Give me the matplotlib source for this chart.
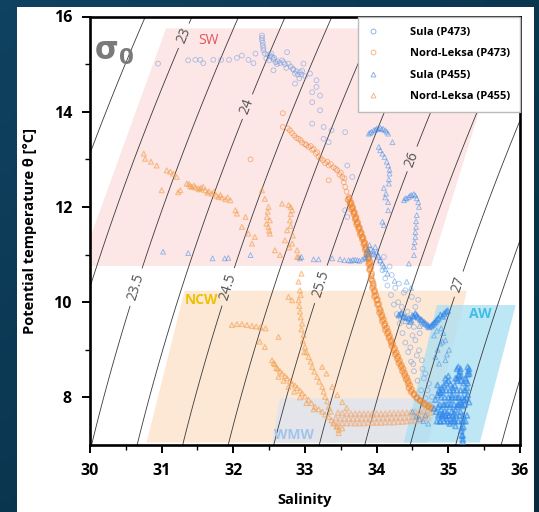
import numpy as np
import matplotlib
matplotlib.use("Agg")
import matplotlib.pyplot as plt
from matplotlib.patches import Polygon, Rectangle
from matplotlib.lines import Line2D

plt.rcParams['font.family'] = ['Open Sans', 'DejaVu Sans']

# ---------------- data (salinity, potential temperature) ----------------
# Sula (P473) - blue circles
sula473_s = [30.95, 31.37, 31.47, 31.54, 31.58, 31.72, 31.83, 31.94, 32.05, 32.12, 32.21, 32.28, 32.31,
             32.40, 32.40, 32.40, 32.41, 32.41, 32.42, 32.42, 32.44, 32.48, 32.51, 32.54, 32.56, 32.59,
             32.56, 32.62, 32.65, 32.68, 32.72, 32.75, 32.77, 32.80, 32.83, 32.86, 32.88, 32.90, 32.93,
             32.95, 32.98, 33.00, 32.86, 33.07, 33.16, 33.16, 33.10, 33.21, 33.10, 33.21, 33.10, 33.26,
             33.26, 33.33, 33.37, 33.56, 33.59, 33.66, 33.56, 33.59,
             32.46, 32.50, 32.53, 32.57, 32.61, 32.70, 32.74, 32.84, 32.92, 32.96,
             34.05, 34.08, 34.12, 34.15, 34.20, 34.24, 34.28, 34.32, 34.36, 34.40, 34.44, 34.48, 34.52,
             34.57, 34.62, 34.68, 34.74,
             34.21, 34.31, 34.40, 34.49, 34.54, 34.52, 34.54, 34.59, 34.63, 34.68, 34.73, 34.77,
             34.30, 34.35, 34.45, 34.50, 34.60, 34.38, 34.58, 34.10, 34.18, 34.26, 34.47, 34.66,
             34.34, 34.43, 34.56, 34.64, 34.71, 34.51]
sula473_t = [15.01, 15.08, 15.09, 15.09, 15.02, 15.09, 15.09, 15.09, 15.13, 15.18, 15.09, 15.02, 15.22,
             15.60, 15.55, 15.50, 15.45, 15.39, 15.34, 15.29, 15.22, 15.20, 15.18, 15.15, 15.10, 15.04,
             14.87, 15.06, 15.02, 15.08, 15.00, 15.25, 15.01, 14.95, 14.90, 14.80, 14.85, 14.78, 14.83,
             14.78, 15.01, 14.75, 14.59, 14.80, 14.66, 14.52, 14.41, 14.34, 14.20, 14.03, 13.75, 13.68,
             13.43, 13.36, 13.61, 13.57, 12.87, 12.63, 11.93, 11.79,
             15.12, 15.08, 15.22, 15.13, 15.00, 15.04, 14.92, 14.88, 14.70, 14.86,
             10.85, 10.67, 10.50, 10.35, 10.15, 9.95, 9.75, 9.55, 9.35, 9.15, 8.95, 8.75, 8.55,
             8.35, 8.15, 7.98, 7.85,
             10.57, 10.39, 10.25, 10.11, 9.90, 9.48, 9.20, 8.99, 8.78, 8.50, 8.29, 8.01,
             10.00, 9.90, 9.50, 9.30, 9.35, 10.20, 10.05, 10.95, 10.75, 10.30, 9.05, 8.40,
             9.65, 9.80, 8.88, 8.60, 8.15, 8.70]

# Nord-Leksa (P473) - orange circles
nl473_s = [32.69, 32.24, 33.33, 32.69, 32.76, 32.79, 32.85, 32.91, 32.96, 33.00, 33.05, 33.10, 33.12,
           33.15, 33.19, 33.25, 33.31, 33.33, 33.40, 33.45, 33.50, 33.52, 33.54, 33.56, 33.58, 33.61,
           32.82, 32.88, 32.94, 33.02, 33.08, 33.17, 33.22, 33.28, 33.36, 33.43, 33.48, 33.55]
nl473_t = [13.97, 13.00, 12.56, 13.68, 13.65, 13.61, 13.50, 13.43, 13.35, 13.32, 13.26, 13.20, 13.22,
           13.12, 13.05, 12.98, 12.95, 12.87, 12.83, 12.77, 12.72, 12.63, 12.52, 12.42, 12.32, 12.21,
           13.55, 13.45, 13.40, 13.30, 13.28, 13.15, 13.02, 12.92, 12.90, 12.80, 12.68, 12.60]
# the steep, densely sampled part of the Nord-Leksa (P473) profile
nl473_curve_s = [33.60, 33.63, 33.65, 33.68, 33.70, 33.72, 33.75, 33.77, 33.80, 33.82, 33.84, 33.86, 33.88,
                 33.89, 33.90, 33.92, 33.94, 33.97, 34.01, 34.04, 34.08, 34.12, 34.17, 34.21, 34.26, 34.31,
                 34.36, 34.41, 34.45, 34.52, 34.60, 34.68, 34.76,
                 33.63, 33.66, 33.68, 33.71, 33.73, 33.75, 33.78, 33.80, 33.83, 33.85, 33.87, 33.89, 33.91,
                 33.92, 33.93, 33.95, 33.97, 34.00, 34.04, 34.07, 34.11, 34.15, 34.20, 34.24, 34.29, 34.34,
                 34.39, 34.44, 34.48, 34.56, 34.64, 34.72,
                 33.62, 33.645, 33.665, 33.69, 33.71, 33.735, 33.76, 33.785, 33.81, 33.83, 33.85, 33.87,
                 33.89, 33.90, 33.91, 33.925, 33.94, 33.955, 33.97, 33.99, 34.01, 34.03, 34.055, 34.075,
                 34.095, 34.115, 34.14, 34.16, 34.18, 34.20, 34.225, 34.25, 34.275, 34.295, 34.32, 34.345,
                 34.37, 34.39, 34.42, 34.44, 34.465, 34.49, 34.52, 34.56, 34.61, 34.66, 34.72]
nl473_curve_t = [12.15, 12.05, 11.95, 11.85, 11.74, 11.63, 11.53, 11.42, 11.32, 11.21, 11.10, 11.00, 10.90,
                 10.80, 10.68, 10.48, 10.30, 10.12, 9.95, 9.78, 9.60, 9.42, 9.25, 9.08, 8.90, 8.72,
                 8.55, 8.38, 8.20, 8.05, 7.94, 7.85, 7.78,
                 12.10, 12.00, 11.90, 11.79, 11.68, 11.58, 11.47, 11.37, 11.26, 11.16, 11.05, 10.95, 10.85,
                 10.74, 10.60, 10.39, 10.21, 10.04, 9.86, 9.69, 9.51, 9.34, 9.16, 8.99, 8.81, 8.64,
                 8.46, 8.29, 8.12, 7.98, 7.90, 7.80,
                 12.18, 12.08, 11.98, 11.88, 11.76, 11.66, 11.56, 11.45, 11.35, 11.24, 11.13, 11.03,
                 10.93, 10.82, 10.70, 10.55, 10.45, 10.34, 10.25, 10.15, 10.06, 9.96, 9.82, 9.73,
                 9.64, 9.55, 9.46, 9.38, 9.29, 9.20, 9.12, 9.03, 8.94, 8.86, 8.77, 8.68,
                 8.60, 8.51, 8.42, 8.34, 8.25, 8.16, 8.08, 8.00, 7.93, 7.86, 7.82]

# Sula (P455) - blue triangles
sula455_s = [31.02, 31.37, 31.71, 31.88, 31.93, 32.24, 32.93, 32.95, 33.12, 33.19, 33.38, 33.49, 33.55,
             33.61, 33.67, 33.73, 33.80, 33.85, 33.89, 33.92, 33.96, 33.98, 34.03, 34.05, 34.08, 34.10,
             34.12, 33.87, 33.90, 33.94, 34.00, 33.64, 33.70, 33.76, 33.83, 33.88, 33.95, 34.02,
             33.89, 33.93, 33.96, 34.00, 34.05, 34.09, 34.12, 34.16, 34.22, 34.03, 34.05, 34.08, 34.11,
             34.14, 34.16, 34.18, 34.18, 34.17, 34.17, 34.13, 34.16, 34.16, 34.08, 34.10,
             33.91, 33.98, 34.02, 34.07, 34.14, 34.10, 34.12,
             34.38, 34.42, 34.45, 34.49, 34.52, 34.56, 34.59, 34.56, 34.55, 34.55, 34.54, 34.54, 34.53,
             34.52, 34.52, 34.45, 34.40, 34.47, 34.54, 34.58,
             34.15, 34.25, 34.42, 34.48, 34.40, 34.47, 34.35, 34.60,
             34.89, 34.92, 34.96, 35.01, 34.98, 34.96, 34.87, 34.82, 34.85, 34.80, 34.84, 34.90, 34.93,
             34.50, 34.55, 34.60, 34.65, 34.68, 34.72]
sula455_t = [11.06, 11.03, 10.92, 10.92, 10.93, 10.99, 10.92, 10.95, 10.90, 10.90, 10.92, 10.90, 10.88,
             10.88, 10.89, 10.88, 10.90, 10.95, 11.06, 11.12, 11.02, 11.16, 10.95, 10.88, 10.81, 10.75,
             10.70, 11.10, 11.20, 11.00, 11.05, 10.87, 10.89, 10.87, 10.93, 11.00, 11.08, 10.98,
             13.54, 13.58, 13.61, 13.64, 13.66, 13.64, 13.61, 13.54, 13.36, 13.26, 13.19, 13.12, 13.05,
             12.95, 12.87, 12.78, 12.70, 12.58, 12.49, 12.28, 12.10, 11.93, 11.69, 11.62,
             13.56, 13.62, 13.65, 13.63, 13.58, 12.40, 12.20,
             12.14, 12.18, 12.21, 12.25, 12.27, 12.18, 12.00, 11.83, 11.70, 11.58, 11.47, 11.37, 11.26,
             11.16, 10.99, 10.81, 12.18, 12.24, 12.24, 12.10,
             10.60, 10.45, 10.43, 10.30, 9.60, 9.58, 9.78, 9.50,
             9.13, 9.17, 9.20, 9.00, 8.90, 8.78, 8.71, 8.85, 9.00, 9.30, 9.40, 9.45, 9.35,
             7.70, 7.60, 7.55, 7.50, 7.62, 7.45]
# Sula (P455), densely sampled deep part (Atlantic water blob and the 9.5-9.8 degC chain)
sula455_deep_s = [34.31, 34.38, 34.45, 34.50, 34.54, 34.58, 34.63, 34.68, 34.73, 34.78, 34.82, 34.86, 34.89,
                  34.94, 34.97, 34.34, 34.41, 34.48, 34.52, 34.56, 34.61, 34.66, 34.71, 34.76, 34.80, 34.84,
                  34.92, 34.99,
                  34.80, 34.83, 34.86, 34.88, 34.90, 34.92, 34.95, 34.98, 35.00, 35.02, 35.05, 35.08, 35.10,
                  35.12, 35.15, 35.17, 35.20, 35.22, 35.25, 35.27, 35.29,
                  34.82, 34.85, 34.88, 34.91, 34.94, 34.97, 35.00, 35.03, 35.06, 35.09, 35.12, 35.15, 35.18,
                  35.21, 35.24, 35.27,
                  34.85, 34.87, 34.96, 35.00, 35.05, 35.10, 35.14, 35.16, 35.18, 35.27, 35.28, 35.29, 35.26,
                  35.20, 35.20, 35.19, 35.21, 35.10, 35.07, 35.02, 34.98, 34.92, 34.88, 34.90, 35.12, 35.24,
                  34.95, 35.03, 35.13, 35.22, 35.17, 35.08,
                  34.84, 34.89, 34.94, 34.99, 35.04, 35.09, 35.14, 35.19, 35.24,
                  34.86, 34.91, 34.96, 35.01, 35.06, 35.11, 35.16, 35.21, 35.26,
                  34.88, 34.93, 34.98, 35.03, 35.08, 35.13, 35.18, 35.23,
                  34.90, 34.95, 35.00, 35.05, 35.10, 35.15, 35.20,
                  34.92, 34.97, 35.02, 35.07, 35.12, 35.17, 35.22,
                  35.13, 35.15, 35.17, 35.25, 35.27, 35.29, 35.18, 35.19, 35.20, 35.21]
sula455_deep_t = [9.73, 9.70, 9.66, 9.72, 9.76, 9.68, 9.62, 9.55, 9.48, 9.53, 9.59, 9.66, 9.73,
                  9.76, 9.80, 9.76, 9.68, 9.62, 9.70, 9.72, 9.64, 9.58, 9.52, 9.50, 9.56, 9.63,
                  9.70, 9.82,
                  7.77, 7.70, 7.80, 7.65, 7.75, 7.60, 7.72, 7.68, 7.62, 7.80, 7.70, 7.66, 7.75,
                  7.80, 7.85, 7.90, 7.82, 7.95, 8.00, 8.05, 7.90,
                  7.95, 8.05, 8.10, 8.20, 8.26, 8.30, 8.35, 8.28, 8.20, 8.25, 8.40, 8.45, 8.35,
                  8.30, 8.40, 8.30,
                  8.26, 8.15, 8.40, 8.45, 8.05, 8.40, 8.64, 8.55, 8.45, 8.64, 8.55, 8.50, 8.20,
                  7.07, 7.20, 7.35, 7.50, 7.40, 7.50, 7.45, 7.55, 7.65, 7.50, 8.10, 8.60, 8.15,
                  7.85, 7.95, 8.00, 7.95, 7.70, 7.55,
                  7.50, 7.50, 7.50, 7.50, 7.50, 7.50, 7.50, 7.50, 7.50,
                  7.62, 7.62, 7.62, 7.62, 7.62, 7.62, 7.62, 7.62, 7.62,
                  7.85, 7.85, 7.85, 7.85, 7.85, 7.85, 7.85, 7.85,
                  8.00, 8.00, 8.00, 8.00, 8.00, 8.00, 8.00,
                  8.15, 8.15, 8.15, 8.15, 8.15, 8.15, 8.15,
                  8.35, 8.48, 8.60, 8.35, 8.48, 8.60, 7.30, 7.20, 7.12, 7.38]

# Nord-Leksa (P455) - orange triangles
nl455_s = [30.75, 30.77, 30.93, 31.07, 31.16, 31.21, 31.35, 31.42, 31.51, 31.61, 31.70, 31.79, 31.89,
           31.96, 31.26, 31.23, 31.00, 32.03, 32.05, 31.45, 31.55, 31.66, 31.84,
           31.38, 31.40, 31.47, 31.53, 31.58, 31.64, 31.73, 31.76, 31.82, 31.92, 31.12, 30.85,
           32.40, 32.44, 32.49, 32.47, 32.49, 32.51, 32.51, 32.68, 32.77, 32.82, 32.79, 32.75, 32.72,
           32.82, 32.89, 32.91, 32.17, 32.12, 32.21, 32.26, 32.30, 32.58, 32.65, 32.80, 32.80,
           32.46, 32.50, 32.48, 32.80, 32.83, 32.78,
           32.89, 32.91, 32.93, 32.91, 32.93, 32.96, 32.98, 33.00, 32.77, 32.82, 32.95, 32.94,
           32.92, 32.94, 32.95, 32.97, 32.99,
           33.05, 33.10, 33.17, 33.24, 33.28, 33.33, 33.02, 33.08, 33.13, 33.20, 33.26, 33.31, 33.36,
           32.54, 32.58, 32.62, 32.68, 32.75, 32.82, 32.89, 32.96, 33.05, 33.14, 33.24, 33.33, 33.40,
           33.47, 32.63, 32.70, 32.77, 32.85, 32.93, 33.02, 33.12,
           32.56, 32.60, 32.65, 32.72, 32.79, 32.86, 32.93, 33.00, 33.09, 33.19, 33.28, 33.37, 33.44,
           33.24, 33.30, 33.38, 33.45, 33.52, 33.58,
           31.98, 32.05, 32.12, 32.19, 32.26, 32.32, 32.38, 32.45, 32.63, 32.37, 32.44,
           33.47, 33.52, 33.45]
nl455_t = [13.12, 13.01, 12.87, 12.77, 12.70, 12.63, 12.49, 12.42, 12.39, 12.35, 12.28, 12.21, 12.16,
           12.14, 12.35, 12.31, 12.35, 11.93, 11.86, 12.45, 12.40, 12.33, 12.20,
           12.48, 12.44, 12.41, 12.37, 12.42, 12.30, 12.32, 12.24, 12.25, 12.20, 12.74, 12.95,
           12.35, 12.17, 12.00, 11.79, 11.58, 11.44, 11.72, 12.07, 12.04, 11.93, 11.72, 11.51, 11.30,
           11.23, 11.09, 10.95, 11.79, 11.58, 11.44, 11.23, 11.37, 11.09, 10.99, 12.00, 11.85,
           11.65, 11.50, 11.90, 11.60, 11.40, 11.15,
           10.95, 10.43, 10.25, 10.04, 9.80, 9.55, 9.31, 9.06, 10.11, 10.04, 10.60, 10.15,
           9.92, 9.68, 9.43, 9.18, 8.95,
           8.85, 8.64, 8.43, 8.22, 8.01, 7.80, 8.95, 8.75, 8.54, 8.33, 8.12, 7.92, 7.70,
           8.78, 8.70, 8.60, 8.50, 8.40, 8.29, 8.20, 8.09, 7.95, 7.80, 7.70, 7.59, 7.45,
           7.32, 8.43, 8.35, 8.22, 8.12, 8.00, 7.88, 7.75,
           8.72, 8.62, 8.55, 8.45, 8.34, 8.25, 8.14, 8.02, 7.88, 7.75, 7.64, 7.52, 7.38,
           8.64, 8.50, 8.22, 8.05, 7.90, 7.78,
           9.52, 9.54, 9.54, 9.52, 9.50, 9.49, 9.47, 9.45, 9.27, 9.17, 9.06,
           7.25, 7.35, 7.40]
# the near-bottom Nord-Leksa (P455) layer (beige band)
band_s = [33.40, 33.46, 33.52, 33.58, 33.64, 33.70, 33.76, 33.82, 33.88, 33.94, 34.00, 34.06, 34.12,
          34.18, 34.24, 34.30, 34.36, 34.42, 34.48, 34.54, 34.60, 34.66, 34.72,
          33.43, 33.49, 33.55, 33.61, 33.67, 33.73, 33.79, 33.85, 33.91, 33.97, 34.03, 34.09, 34.15,
          34.21, 34.27, 34.33, 34.39, 34.45, 34.51, 34.57, 34.63, 34.69, 34.75,
          33.46, 33.52, 33.58, 33.64, 33.70, 33.76, 33.82, 33.88, 33.94, 34.00, 34.06, 34.12, 34.18,
          34.24, 34.30, 34.36, 34.42, 34.48, 34.54, 34.60, 34.66, 34.72, 34.78]
band_t = [7.47, 7.46, 7.46, 7.46, 7.46, 7.46, 7.46, 7.46, 7.47, 7.47, 7.47, 7.47, 7.48,
          7.48, 7.48, 7.49, 7.49, 7.50, 7.51, 7.52, 7.53, 7.55, 7.58,
          7.57, 7.56, 7.56, 7.56, 7.56, 7.56, 7.56, 7.56, 7.56, 7.56, 7.57, 7.57, 7.57,
          7.57, 7.58, 7.58, 7.58, 7.59, 7.60, 7.61, 7.63, 7.65, 7.68,
          7.68, 7.67, 7.66, 7.66, 7.66, 7.66, 7.66, 7.66, 7.66, 7.66, 7.66, 7.66, 7.67,
          7.67, 7.67, 7.68, 7.68, 7.69, 7.70, 7.71, 7.72, 7.74, 7.77]

# water mass boxes (corner salinity / temperature)
sw_s = [29.86, 31.06, 35.79, 34.76]
sw_t = [10.76, 15.75, 15.75, 10.76]
ncw_s = [30.79, 31.32, 35.26, 34.73]
ncw_t = [7.05, 10.24, 10.24, 7.05]
wmw_s = [32.54, 32.65, 34.85, 34.70]
wmw_t = [7.05, 7.98, 7.98, 7.05]
aw_s = [34.38, 34.84, 35.94, 35.44]
aw_t = [7.05, 9.94, 9.94, 7.05]

# isopycnals: plain ones, labelled ones and where their labels sit
plain_levels = [22.5, 25.0, 26.5, 27.5, 28.0, 28.5]
label_levels = [23.0, 23.5, 24.0, 24.5, 25.5, 26.0, 27.0]
label_pos = [(31.30, 15.60), (30.63, 10.32), (32.21, 14.10), (31.93, 10.32),
             (33.19, 10.39), (34.49, 13.01), (35.12, 10.39)]


def sigma0(S, T):
    # UNESCO 1983 (EOS-80) density at surface pressure, minus 1000
    rw = (999.842594 + 6.793952e-2 * T - 9.095290e-3 * T**2 + 1.001685e-4 * T**3
          - 1.120083e-6 * T**4 + 6.536332e-9 * T**5)
    a = 0.824493 - 4.0899e-3 * T + 7.6438e-5 * T**2 - 8.2467e-7 * T**3 + 5.3875e-9 * T**4
    b = -5.72466e-3 + 1.0227e-4 * T - 1.6546e-6 * T**2
    return rw + a * S + b * S**1.5 + 4.8314e-4 * S**2 - 1000


fig = plt.figure(figsize=(5.39, 5.12), dpi=100)

# dark slide background + white card
bg = fig.add_axes([0, 0, 1, 1], zorder=-10)
gx, gy = np.meshgrid(np.linspace(0, 1, 50), np.linspace(0, 1, 50))
bg.imshow(gx * 0.5 + gy * 0.5, cmap=matplotlib.colors.LinearSegmentedColormap.from_list(
    'bg', ['#0f4260', '#062a40']), aspect='auto', extent=[0, 1, 0, 1])
bg.axis('off')
fig.patches.append(Rectangle((17 / 539, 0), (534 - 17) / 539, (512 - 7) / 512,
                             transform=fig.transFigure, facecolor='white', edgecolor='none', zorder=-5))

ax = fig.add_axes([90 / 539, 1 - 445 / 512, (520 - 90) / 539, (445 - 16.5) / 512])

for xs, ts, col, a in [(sw_s, sw_t, '#fde6e6', 1.0), (ncw_s, ncw_t, '#fde7d5', 1.0),
                       (wmw_s, wmw_t, '#e4e5ea', 1.0), (aw_s, aw_t, '#a9dff4', 0.75)]:
    ax.add_patch(Polygon(list(zip(xs, ts)), closed=True, facecolor=col, edgecolor='none',
                         alpha=a, zorder=0))

sg, tg = np.meshgrid(np.linspace(29.5, 36.5, 300), np.linspace(6.5, 16.5, 300))
sig = sigma0(sg, tg)
ax.contour(sg, tg, sig, levels=plain_levels, colors='#3a3a3a', linewidths=0.6, zorder=1)
cs = ax.contour(sg, tg, sig, levels=label_levels, colors='#3a3a3a', linewidths=0.6, zorder=1)
ax.clabel(cs, manual=label_pos, fmt=lambda v: f'{v:g}',
          fontsize=10, colors='#555555', inline=True, inline_spacing=4)

thin = dict(s=12, linewidths=0.65, zorder=3)
mid = dict(s=12, linewidths=0.9, zorder=3)
thick = dict(s=13, linewidths=1.2, zorder=3)
ax.scatter(sula473_s, sula473_t, marker='o', facecolors='none', edgecolors='#6f9ce0', alpha=0.55, **thin)
ax.scatter(nl455_s, nl455_t, marker='^', facecolors='none', edgecolors='#f3a04e', alpha=0.6, **mid)
ax.scatter(band_s, band_t, marker='^', facecolors='none', edgecolors='#eeae80', alpha=0.6, **thick)
ax.scatter(nl473_s, nl473_t, marker='o', facecolors='none', edgecolors='#f0842a', alpha=0.55, **thin)
ax.scatter(nl473_curve_s, nl473_curve_t, marker='o', facecolors='none', edgecolors='#f0842a',
           alpha=0.55, **thick)
ax.scatter(sula455_s, sula455_t, marker='^', facecolors='none', edgecolors='#3a8be6', alpha=0.55, **thin)
ax.scatter(sula455_deep_s, sula455_deep_t, marker='^', facecolors='none', edgecolors='#2f86ea',
           alpha=0.6, **thick)

ax.text(31.65, 15.50, 'SW', color='#e8505c', fontsize=10, ha='center', va='center', zorder=4)
ax.text(31.56, 10.04, 'NCW', color='#efc100', fontsize=10, fontweight='bold', ha='center', va='center', zorder=4)
ax.text(32.84, 7.21, 'WMW', color='#a3c4ea', fontsize=10, fontweight='bold', ha='center', va='center', zorder=4)
ax.text(35.45, 9.76, 'AW', color='#3fbfe6', fontsize=10, fontweight='bold', ha='center', va='center', zorder=4)
ax.text(30.33, 15.25, r'$\mathbf{\sigma_0}$', color='#7a7a7a', fontsize=22, ha='center', va='center', zorder=4)

ax.set_xlim(30, 36)
ax.set_ylim(7, 16)
ax.set_xticks(range(30, 37))
ax.set_yticks([8, 10, 12, 14, 16])
ax.set_xticks(np.arange(30.5, 36, 1), minor=True)
ax.set_yticks([9, 11, 13, 15], minor=True)
ax.tick_params(which='major', direction='out', length=6, width=1.4, labelsize=11.5, pad=7)
ax.tick_params(which='minor', direction='out', length=3.5, width=1.0)
for lab in ax.get_xticklabels() + ax.get_yticklabels():
    lab.set_fontweight('bold')
for sp in ax.spines.values():
    sp.set_linewidth(1.9)
ax.set_xlabel('Salinity', fontsize=10.5, fontweight='bold', labelpad=10)
ax.set_ylabel('Potential temperature θ [°C]', fontsize=10.5, fontweight='bold', labelpad=12)

handles = [Line2D([], [], ls='none', marker='o', mfc='none', mec='#8fb3e6', ms=3.5, mew=0.7),
           Line2D([], [], ls='none', marker='o', mfc='none', mec='#f4b98a', ms=3.5, mew=0.7),
           Line2D([], [], ls='none', marker='^', mfc='none', mec='#8fb3e6', ms=3.5, mew=0.7),
           Line2D([], [], ls='none', marker='^', mfc='none', mec='#f4b98a', ms=3.5, mew=0.7)]
leg = ax.legend(handles, ['Sula (P473)', 'Nord-Leksa (P473)', 'Sula (P455)', 'Nord-Leksa (P455)'],
                loc='upper right', borderaxespad=0, fancybox=False, framealpha=1, edgecolor='#bbbbbb',
                prop={'size': 8, 'weight': 'bold'}, handlelength=1.0, handletextpad=2.8,
                borderpad=0.9, labelspacing=0.95)
leg.set_zorder(10)

fig.savefig('out.png', dpi=100)
